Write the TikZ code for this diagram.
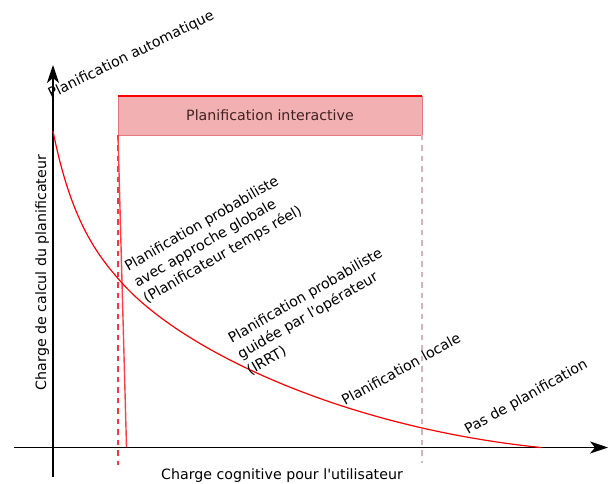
\documentclass[tikz,border=0pt]{standalone}
\usepackage{fontspec}
\setmainfont{DejaVu Sans}
\usetikzlibrary{arrows.meta,positioning}

\definecolor{boxfill}{RGB}{243,176,178}
\definecolor{boxline}{RGB}{228,120,126}
\definecolor{boxtext}{RGB}{64,34,34}
\definecolor{paledash}{RGB}{214,180,186}

\begin{document}
\begin{tikzpicture}[
    x=1pt, y=-1pt,
    axis/.style={line width=1.4pt, -{Stealth[length=18pt, width=12pt, inset=5pt]}},
    curve/.style={red, line width=1.2pt},
    interbox/.style={draw=boxline, line width=0.8pt, fill=boxfill, outer sep=0pt, inner sep=0pt,
        minimum width=304pt, minimum height=39pt, text=boxtext},
    leftdash/.style={red!80, line width=2pt, dash pattern=on 5.5pt off 5pt},
    rightdash/.style={paledash, line width=2pt, dash pattern=on 5.5pt off 5pt},
    slanted/.style={inner sep=0pt, align=left},
    every node/.style={font=\fontsize{14.2}{18.5}\selectfont}
]
\useasboundingbox (0,0) rectangle (608,484);

% Interactive planning band
\node[interbox] (inter) at (270,115.5) {Planification interactive};
\draw[red, line width=2pt] (inter.north west) -- (inter.north east);

\coordinate (leftbot) at (118,465);
\coordinate (rightbot) at (422,463);
\coordinate (slantbot) at (126.5,447);
\draw[leftdash] (inter.south west) -- (leftbot);
\draw[rightdash] (inter.south east) -- (rightbot);
\draw[red!75, line width=1.4pt] (inter.south west) -- (slantbot);

% Axes
\coordinate (ybot) at (53,477);
\coordinate (ytop) at (53,65);
\coordinate (xleft) at (14,447.5);
\coordinate (xright) at (608,447.5);
\draw[axis] (ybot) -- (ytop);
\draw[axis] (xleft) -- (xright);

% Load curve
\coordinate (cstart) at (53,131);
\coordinate (cmid) at (122,283);
\coordinate (cend) at (541,447.5);
\draw[curve] (cstart) .. controls (71,221) and (97,255) .. (cmid)
    .. controls (182,350) and (341,427) .. (cend);

% Labels along the curve
\node[slanted, rotate=26, anchor=base west] (auto) at (51,99) {Planification automatique};
\node[slanted, rotate=30, anchor=north west] (global) at (122.6,262) {Planification probabiliste\\avec approche globale\\(Planificateur temps réel)};
\node[slanted, rotate=30, anchor=north west] (irrt) at (226.3,334) {Planification probabiliste\\guidée par l\textquotesingle opérateur\\(IRRT)};
\node[slanted, rotate=29, anchor=base west] (local) at (345,406) {Planification locale};
\node[slanted, rotate=29.5, anchor=base west] (none) at (468,435) {Pas de planification};

% Axis titles
\node[slanted, rotate=90, anchor=base] (ylabel) at (46,272.5) {Charge de calcul du planificateur};
\node[slanted, anchor=base] (xlabel) at (282,479) {Charge cognitive pour l\textquotesingle utilisateur};

\end{tikzpicture}
\end{document}
